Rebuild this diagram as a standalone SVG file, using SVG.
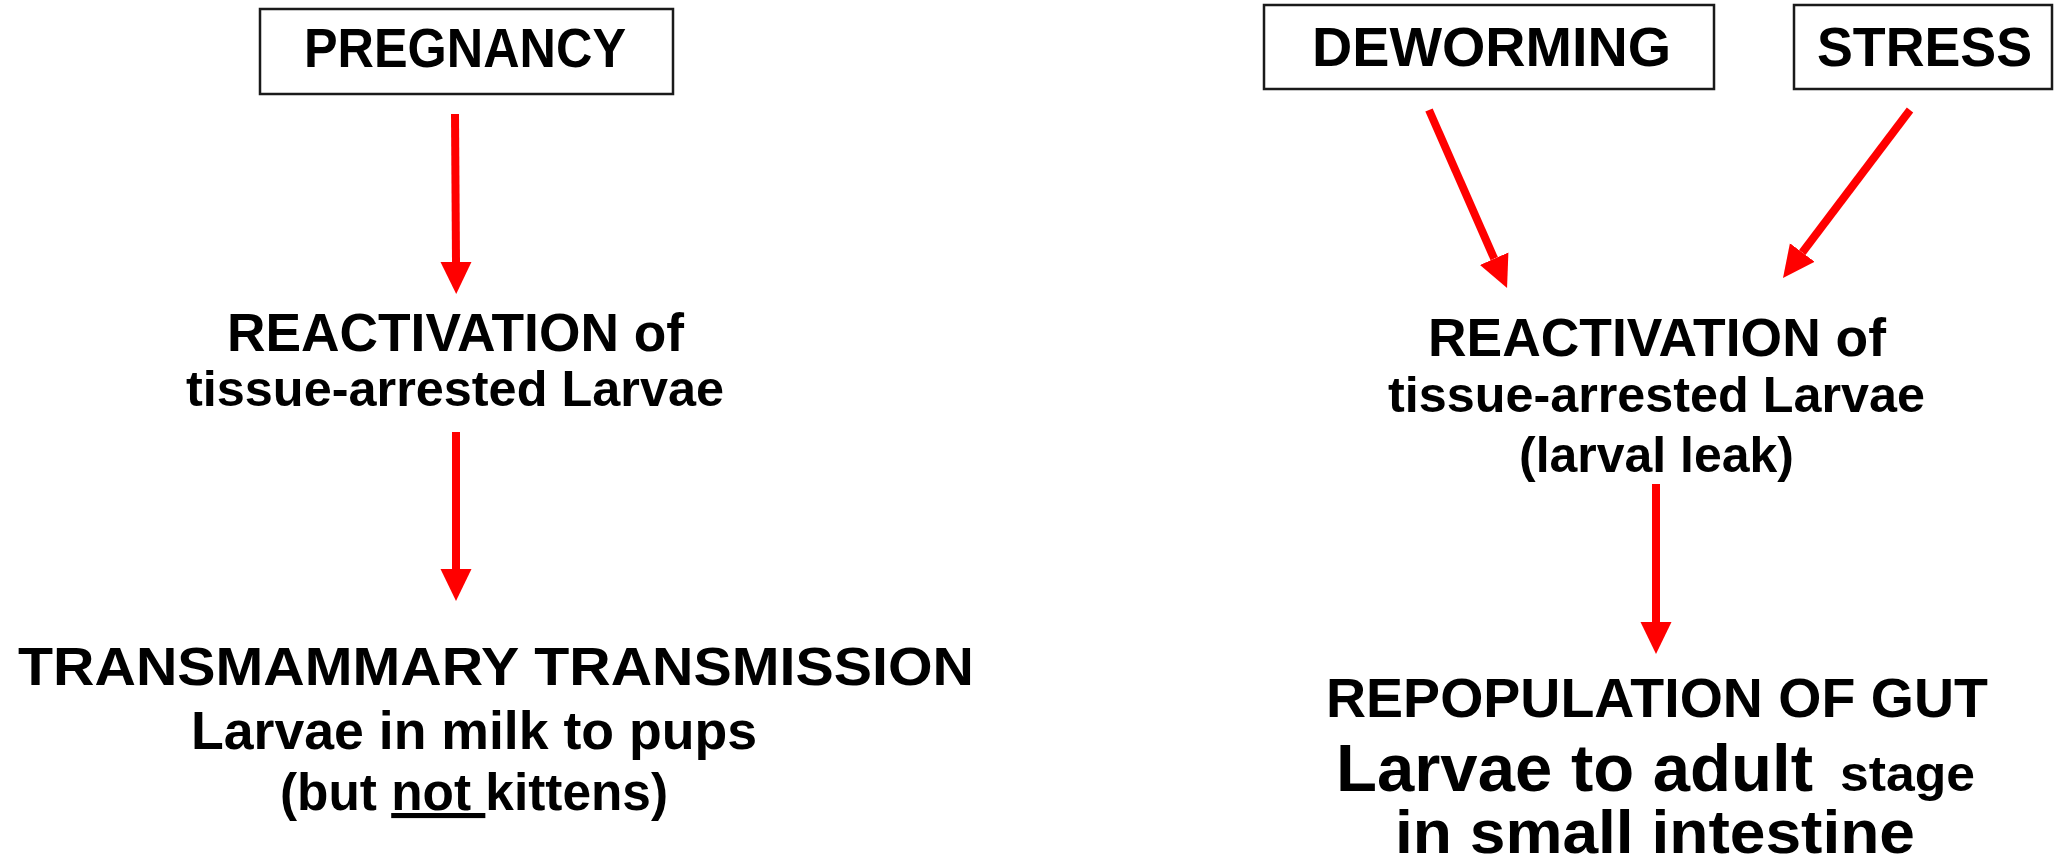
<svg xmlns="http://www.w3.org/2000/svg" width="2054" height="867" viewBox="0 0 2054 867">
<defs>
<style>
.box{fill:#fff;stroke:#1a1a1a;stroke-width:2.5}
.t{font-family:"Liberation Sans",Arial,sans-serif;font-weight:bold;fill:#000}
.arr{stroke:#ff0000;stroke-width:8;fill:none;marker-end:url(#ah)}
</style>
<marker id="ah" markerUnits="userSpaceOnUse" viewBox="0 -16 34 32" refX="0" refY="0" markerWidth="34" markerHeight="32" orient="auto">
<path d="M0,-15.5 L32,0 L0,15.5 Z" fill="#ff0000"/>
</marker>
</defs>
<rect width="2054" height="867" fill="#fff"/>
<g id="pregnancy">
<rect class="box" x="260" y="9" width="413" height="85"/>
<text class="t" x="304" y="67" font-size="56" textLength="322" lengthAdjust="spacingAndGlyphs">PREGNANCY</text>
</g>
<g id="reactivation-left">
<text class="t" x="227" y="351" font-size="53" textLength="457" lengthAdjust="spacingAndGlyphs">REACTIVATION of</text>
<text class="t" x="186" y="406" font-size="50" textLength="538" lengthAdjust="spacingAndGlyphs">tissue-arrested Larvae</text>
</g>
<g id="transmammary">
<text class="t" x="18" y="685" font-size="53" textLength="956" lengthAdjust="spacingAndGlyphs">TRANSMAMMARY TRANSMISSION</text>
<text class="t" x="191" y="749" font-size="53" textLength="566" lengthAdjust="spacingAndGlyphs">Larvae in milk to pups</text>
<text class="t" x="280" y="810" font-size="51" textLength="388" lengthAdjust="spacingAndGlyphs">(but <tspan text-decoration="underline">not </tspan>kittens)</text>
</g>
<g id="deworming">
<rect class="box" x="1264" y="5" width="450" height="84"/>
<text class="t" x="1312" y="66" font-size="56" textLength="359" lengthAdjust="spacingAndGlyphs">DEWORMING</text>
</g>
<g id="stress">
<rect class="box" x="1794" y="5" width="258" height="84"/>
<text class="t" x="1817" y="66" font-size="56" textLength="215" lengthAdjust="spacingAndGlyphs">STRESS</text>
</g>
<g id="reactivation-right">
<text class="t" x="1428" y="356" font-size="53" textLength="458" lengthAdjust="spacingAndGlyphs">REACTIVATION of</text>
<text class="t" x="1388" y="412" font-size="50" textLength="537" lengthAdjust="spacingAndGlyphs">tissue-arrested Larvae</text>
<text class="t" x="1519" y="472" font-size="50" textLength="275" lengthAdjust="spacingAndGlyphs">(larval leak)</text>
</g>
<g id="repopulation">
<text class="t" x="1326" y="717" font-size="55" textLength="662" lengthAdjust="spacingAndGlyphs">REPOPULATION OF GUT</text>
<text class="t" x="1336" y="791" font-size="66" textLength="477" lengthAdjust="spacingAndGlyphs">Larvae to adult</text>
<text class="t" x="1840" y="791" font-size="50" textLength="135" lengthAdjust="spacingAndGlyphs">stage</text>
<text class="t" x="1395" y="853" font-size="62" textLength="520" lengthAdjust="spacingAndGlyphs">in small intestine</text>
</g>
<g id="connectors">
<line class="arr" x1="455" y1="114" x2="456" y2="262"/>
<line class="arr" x1="456" y1="432" x2="456" y2="569"/>
<line class="arr" x1="1429" y1="110" x2="1494.2" y2="258.7"/>
<line class="arr" x1="1910" y1="110" x2="1802.3" y2="252.5"/>
<line class="arr" x1="1656" y1="484" x2="1656" y2="622"/>
</g>
</svg>
